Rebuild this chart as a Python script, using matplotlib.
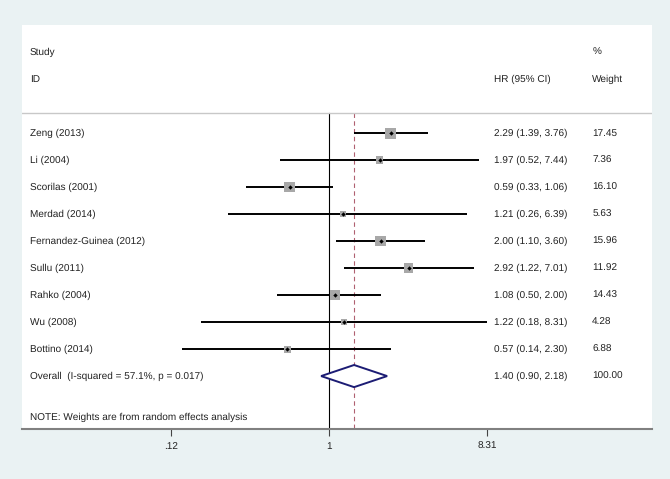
import matplotlib
matplotlib.use('Agg')
import matplotlib.pyplot as plt
import matplotlib.transforms as mtransforms
import numpy as np

plt.rcParams['text.hinting'] = 'no_hinting'
plt.rcParams['text.hinting_factor'] = 1

# study data
studies = ["Zeng (2013)", "Li (2004)", "Scorilas (2001)", "Merdad (2014)",
           "Fernandez-Guinea (2012)", "Sullu (2011)", "Rahko (2004)",
           "Wu (2008)", "Bottino (2014)"]
hr = [2.29, 1.97, 0.59, 1.21, 2.00, 2.92, 1.08, 1.22, 0.57]
lo = [1.39, 0.52, 0.33, 0.26, 1.10, 1.22, 0.50, 0.18, 0.14]
hi = [3.76, 7.44, 1.06, 6.39, 3.60, 7.01, 2.00, 8.31, 2.30]
weight = [17.45, 7.36, 16.10, 5.63, 15.96, 11.92, 14.43, 4.28, 6.88]

overall_label = "Overall  (I-squared = 57.1%, p = 0.017)"
overall_hr, overall_lo, overall_hi = 1.40, 0.90, 2.18
overall_w = 100.00

xticks = [0.12, 1, 8.31]
xtick_labels = [".12", "1", "8.31"]

bg = '#EAF2F3'
font = ['Liberation Sans', 'DejaVu Sans']
fs = 7

fig = plt.figure(figsize=(6.7, 4.79), dpi=100, facecolor=bg)
ax = fig.add_axes([22 / 670, 50 / 479, 630 / 670, 404 / 479])
ax.set_facecolor('white')

ax.set_xscale('log')
ax.set_xlim(np.exp(-4.115), np.exp(4.33))
ax.set_ylim(10.96, -4.0)

rows = np.arange(len(studies))
ytop = -0.74

# reference lines
ax.plot([1, 1], [ytop, 10.96], color='black', lw=0.8, zorder=1)
ax.plot([overall_hr, overall_hr], [ytop, 10.96], color='#B06070', lw=0.8,
        ls=(0, (4, 3)), zorder=1)

# CIs, boxes, points
ax.hlines(rows, lo, hi, color='black', lw=1.4, zorder=2)
ax.scatter(hr, rows, s=[3.6 * w for w in weight], marker='s',
           color='#A8A8A8', zorder=3, linewidths=0)
ax.scatter(hr, rows, s=5, marker='D', color='black', zorder=4, linewidths=0)

# overall diamond
yo = len(studies)
dx = [overall_lo, overall_hr, overall_hi, overall_hr, overall_lo]
dy = [yo, yo - 0.41, yo, yo + 0.41, yo]
ax.fill(dx, dy, facecolor='white', edgecolor='#1C1C74', lw=1.4, zorder=3)

# header line
ax.axhline(ytop, color='#C8C8C8', lw=1.0, zorder=1)

# text columns
trans = mtransforms.blended_transform_factory(ax.transAxes, ax.transData)
x_lab, x_hr, x_w = 0.0127, 0.749, 0.905
kw = dict(transform=trans, va='center', ha='left', fontsize=fs,
          family=font, color='#222222')
ax.text(x_lab, -3, "Study", **kw)
ax.text(x_lab, -2, "ID", **kw)
ax.text(x_hr, -2, "HR (95% CI)", **kw)
ax.text(x_w, -3, "%", **kw)
ax.text(x_w, -2, "Weight", **kw)
for i, s in enumerate(studies):
    ax.text(x_lab, i, s, **kw)
    ax.text(x_hr, i, f"{hr[i]:.2f} ({lo[i]:.2f}, {hi[i]:.2f})", **kw)
    ax.text(x_w, i, f"{weight[i]:.2f}", **kw)
ax.text(x_lab, yo, overall_label, **kw)
ax.text(x_hr, yo, f"{overall_hr:.2f} ({overall_lo:.2f}, {overall_hi:.2f})", **kw)
ax.text(x_w, yo, f"{overall_w:.2f}", **kw)
ax.text(x_lab, 10.52, "NOTE: Weights are from random effects analysis", **kw)

# axes styling
for side in ['top', 'left', 'right']:
    ax.spines[side].set_visible(False)
ax.spines['bottom'].set_color('#808080')
ax.spines['bottom'].set_linewidth(1.5)
ax.set_yticks([])
ax.set_xticks(xticks)
ax.set_xticklabels(xtick_labels, fontsize=fs, family=font, color='#222222')
ax.xaxis.set_minor_locator(matplotlib.ticker.NullLocator())
ax.tick_params(axis='x', direction='out', length=5, width=0.8,
               color='#444444', pad=4)

fig.savefig('out.png', dpi=100, facecolor=bg)
